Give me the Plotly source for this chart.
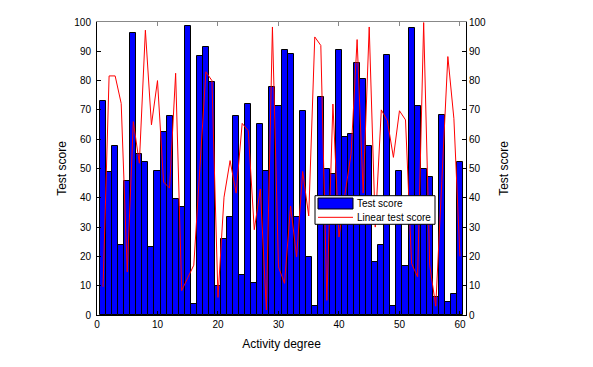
import plotly.graph_objects as go

activity = list(range(1, 61))
test_score = [73.1, 48.7, 57.8, 23.8, 45.9, 96.4, 54.8, 52.2, 23.2, 49.0,
              62.4, 67.8, 39.5, 36.7, 98.6, 3.7, 88.4, 91.3, 79.6, 9.9,
              26.0, 33.4, 67.9, 13.6, 72.0, 10.8, 65.2, 49.3, 77.9, 71.4,
              90.4, 89.0, 33.4, 69.7, 19.8, 3.2, 74.5, 49.9, 48.0, 90.5,
              60.9, 61.8, 86.0, 80.5, 57.6, 18.1, 24.0, 88.7, 3.1, 49.0,
              16.8, 97.8, 71.2, 49.9, 47.0, 6.2, 68.3, 4.3, 7.1, 52.2]
linear_score = [9.6, 81.6, 81.6, 72.2, 14.7, 66.0, 51.8, 97.2, 64.9, 80.0,
                45.4, 43.3, 82.5, 8.3, 12.7, 17.0, 50.0, 83.0, 80.0, 6.0,
                40.2, 52.7, 41.6, 65.4, 62.9, 29.1, 43.0, 1.7, 98.3, 16.4,
                10.8, 37.2, 19.8, 49.0, 33.8, 94.9, 92.0, 5.0, 72.0, 26.6,
                41.4, 55.0, 94.0, 41.6, 98.3, 30.0, 70.0, 66.3, 53.8, 69.7,
                66.6, 17.6, 13.0, 99.8, 17.0, 3.0, 45.6, 88.2, 67.0, 20.0]
x_ticks = [0, 10, 20, 30, 40, 50, 60]
y_ticks = [0, 10, 20, 30, 40, 50, 60, 70, 80, 90, 100]
legend_labels = ["Test score", "Linear test score"]

FONT = "Liberation Sans, Arial, sans-serif"

fig = go.Figure()
fig.add_trace(go.Bar(x=activity, y=test_score, name=legend_labels[0],
                     marker=dict(color="#0000FF", line=dict(color="#000000", width=1)),
                     width=1.0, xaxis="x", yaxis="y", showlegend=False))
fig.add_trace(go.Scatter(x=activity, y=linear_score, name=legend_labels[1],
                         mode="lines", line=dict(color="#FF0000", width=1),
                         xaxis="x", yaxis="y2", showlegend=False))
# helper (empty) trace so the grey top frame axis is drawn
fig.add_trace(go.Scatter(x=[None], y=[None], xaxis="x2", yaxis="y", showlegend=False,
                         hoverinfo="skip"))

axis_common = dict(range=[0, 100], tickvals=y_ticks, ticks="inside", ticklen=4,
                   tickcolor="#000000", showline=True, linecolor="#000000",
                   linewidth=1, showgrid=False, zeroline=False,
                   tickfont=dict(family=FONT, size=10, color="#000000"))

# legend box drawn in plot-area (paper) coordinates
lx0, lx1, ly0, ly1 = 0.5908, 0.916, 0.3096, 0.4072
shapes = [
    dict(type="rect", xref="paper", yref="paper", x0=lx0, x1=lx1, y0=ly0, y1=ly1,
         fillcolor="white", line=dict(color="#000000", width=1), layer="above"),
    dict(type="rect", xref="paper", yref="paper", x0=0.5989, x1=0.6938, y0=0.3618, y1=0.3993,
         fillcolor="#0000FF", line=dict(color="#000000", width=1), layer="above"),
    dict(type="line", xref="paper", yref="paper", x0=0.5989, x1=0.6938, y0=0.3334, y1=0.3334,
         line=dict(color="#FF0000", width=1), layer="above"),
]
annotations = [
    dict(text=legend_labels[0], xref="paper", yref="paper", x=0.6992, y=0.3805,
         xanchor="left", yanchor="middle", showarrow=False,
         font=dict(family=FONT, size=10, color="#000000")),
    dict(text=legend_labels[1], xref="paper", yref="paper", x=0.6992, y=0.3328,
         xanchor="left", yanchor="middle", showarrow=False,
         font=dict(family=FONT, size=10, color="#000000")),
]

fig.update_layout(
    width=585, height=359,
    margin=dict(l=89, r=127, t=14, b=52, autoexpand=False),
    paper_bgcolor="white", plot_bgcolor="white",
    bargap=0,
    font=dict(family=FONT, size=10, color="#000000"),
    xaxis=dict(range=[0, 61], tickvals=x_ticks, ticks="inside", ticklen=4,
               tickcolor="#000000", showline=True, linecolor="#000000",
               linewidth=1, showgrid=False, zeroline=False,
               tickfont=dict(family=FONT, size=10, color="#000000"),
               title=dict(text="Activity degree", font=dict(family=FONT, size=12),
                          standoff=10)),
    xaxis2=dict(range=[0, 61], tickvals=x_ticks, ticks="inside", ticklen=4,
                tickcolor="#888888", showline=True, linecolor="#888888",
                linewidth=1, showgrid=False, zeroline=False, showticklabels=False,
                overlaying="x", side="top", anchor="y"),
    yaxis=dict(**axis_common, ticklabelstandoff=3,
               title=dict(text="Test score", font=dict(family=FONT, size=12),
                          standoff=5)),
    yaxis2=dict(**axis_common, overlaying="y", side="right", anchor="x",
                ticklabelstandoff=0,
                title=dict(text="Test score", font=dict(family=FONT, size=12),
                           standoff=14)),
    shapes=shapes,
    annotations=annotations,
    showlegend=False,
)

fig.write_html("out.html")
